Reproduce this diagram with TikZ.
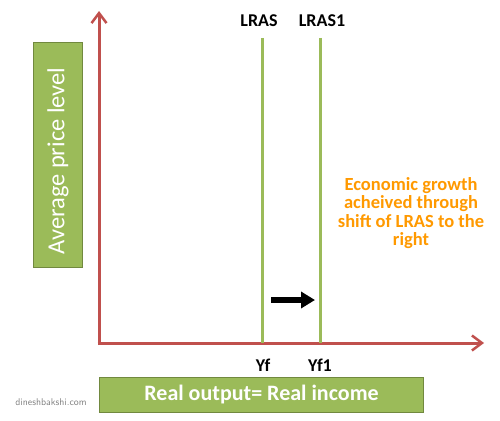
\documentclass[tikz,border=0pt]{standalone}
\usepackage{fontspec}
\setmainfont{Carlito}
\usetikzlibrary{arrows.meta}
\definecolor{axisred}{RGB}{192,80,77}
\definecolor{boxgreen}{RGB}{155,187,89}
\definecolor{boxedge}{RGB}{113,137,63}
\definecolor{growth}{RGB}{255,153,0}
\tikzset{
  axis/.style={axisred, line width=3pt, -{Straight Barb[length=10pt,width=15pt,line width=2.5pt]}},
  lras/.style={boxgreen, line width=3pt},
  lbl/.style={font=\fontsize{18}{20}\selectfont\bfseries, text=black, inner sep=0pt},
  greenbox/.style={fill=boxgreen, draw=boxedge, line width=1.5pt, text=white, inner sep=0pt},
}
\begin{document}
\begin{tikzpicture}[x=1pt,y=-1pt]
\useasboundingbox (0,0) rectangle (500,420);
\coordinate (o) at (99,343);
\coordinate (ytop) at (99,11);
\coordinate (xend) at (484,343);
\draw[axis] (99,345) -- (ytop);
\draw[axis] (97.5,343) -- (xend);
% LRAS lines
\coordinate (l0t) at (262,38); \coordinate (l0b) at (262,343);
\coordinate (l1t) at (320,38); \coordinate (l1b) at (320,343);
\draw[lras] (l0t) -- (l0b);
\draw[lras] (l1t) -- (l1b);
\node[lbl] (lras) at (259,21) {LRAS};
\node[lbl] (lras1) at (322,21) {LRAS1};
\node[lbl] (yf) at (263,365) {Yf};
\node[lbl] (yf1) at (320,365) {Yf1};
% shift arrow
\coordinate (sa) at (271,300);
\coordinate (sb) at (315,300);
\draw[line width=6pt, -{Triangle[length=14pt,width=16pt]}] (sa) -- (sb);
% axis boxes
\node[greenbox, minimum width=49pt, minimum height=225pt] (ybox) at (58,155) {};
\node[text=white, rotate=90, font=\fontsize{24.5}{26}\selectfont] (ylab) at (58,161) {Average price level};
\node[greenbox, minimum width=324pt, minimum height=35pt] (xbox) at (261.5,395) {};
\node[text=white, font=\fontsize{22}{24}\selectfont\bfseries] (xlab) at (261.5,395) {Real output= Real income};
% growth text
\node[text=growth, font=\fontsize{18.5}{18.5}\selectfont\bfseries, align=center] (growth) at (411,213) {Economic growth\\acheived through\\shift of LRAS to the\\right};
% watermark
\node[text=gray, font=\fontsize{9.8}{11}\selectfont\sffamily] (wm) at (51,402) {dineshbakshi.com};
\end{tikzpicture}
\end{document}
